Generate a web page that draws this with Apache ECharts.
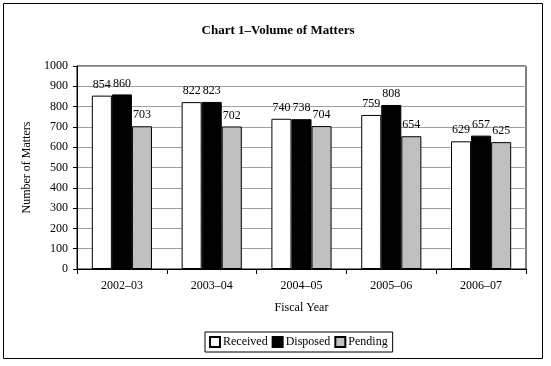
<!DOCTYPE html>
<html><head><meta charset="utf-8">
<script src="https://cdn.jsdelivr.net/npm/echarts@6/dist/echarts.min.js"></script>
<style>html,body{margin:0;padding:0;background:#fff}#c{width:551px;height:366px}</style>
</head><body><div id="c"></div>
<script>
const categories = ['2002–03','2003–04','2004–05','2005–06','2006–07'];
const received = [854, 822, 740, 759, 629];
const disposed = [860, 823, 738, 808, 657];
const pending = [703, 702, 704, 654, 625];
const yTicks = {min: 0, max: 1000, interval: 100};

const font = 'Liberation Serif';
const chart = echarts.init(document.getElementById('c'), null, {renderer: 'canvas'});
const lbl = {show: true, position: 'top', color: '#000', fontFamily: font, fontSize: 12, distance: 5};
function s(name, data, color) {
  return {name, type: 'bar', data, barGap: '0%', barCategoryGap: '33%',
    itemStyle: {color, borderColor: '#000', borderWidth: 1}, label: lbl};
}
chart.setOption({
  animation: false,
  textStyle: {fontFamily: font},
  title: {text: 'Chart 1–Volume of Matters', left: 273, top: 19, textAlign: 'center',
    textStyle: {fontFamily: font, fontWeight: 'bold', fontSize: 13, color: '#000'}},
  grid: {left: 77, right: 25, top: 66, bottom: 97, show: true, borderColor: '#000', borderWidth: 1},
  legend: {top: 332, left: 205, itemWidth: 10, itemHeight: 10, itemGap: 4,
    borderColor: '#000', borderWidth: 1, padding: [4, 5, 4, 4], borderRadius: 0,
    icon: 'rect', textStyle: {fontFamily: font, fontSize: 12, color: '#000', padding: [0,0,0,-2]},
    data: ['Received', 'Disposed', 'Pending']},
  xAxis: {type: 'category', data: categories, name: 'Fiscal Year', nameLocation: 'middle', nameGap: 33,
    nameTextStyle: {fontFamily: font, fontSize: 12, color: '#000'},
    axisLine: {lineStyle: {color: '#000'}}, axisTick: {show: true, length: 5, lineStyle: {color: '#000'}},
    axisLabel: {color: '#000', fontFamily: font, fontSize: 12, margin: 11}},
  yAxis: {type: 'value', min: yTicks.min, max: yTicks.max, interval: yTicks.interval,
    name: 'Number of Matters', nameLocation: 'middle', nameGap: 35, nameRotate: 90,
    nameTextStyle: {fontFamily: font, fontSize: 12, color: '#000'},
    axisLine: {show: true, lineStyle: {color: '#000'}}, axisTick: {show: true, length: 4, lineStyle: {color: '#000'}},
    axisLabel: {color: '#000', fontFamily: font, fontSize: 12, margin: 9, formatter: v => String(v)},
    splitLine: {lineStyle: {color: '#a0a0a0'}}},
  graphic: [{type: 'rect', shape: {x: 3.5, y: 3.5, width: 539, height: 355}, style: {fill: null, stroke: '#000', lineWidth: 1}, silent: true}],
  series: [s('Received', received, '#fff'), s('Disposed', disposed, '#000'), s('Pending', pending, '#c0c0c0')]
});
</script></body></html>
